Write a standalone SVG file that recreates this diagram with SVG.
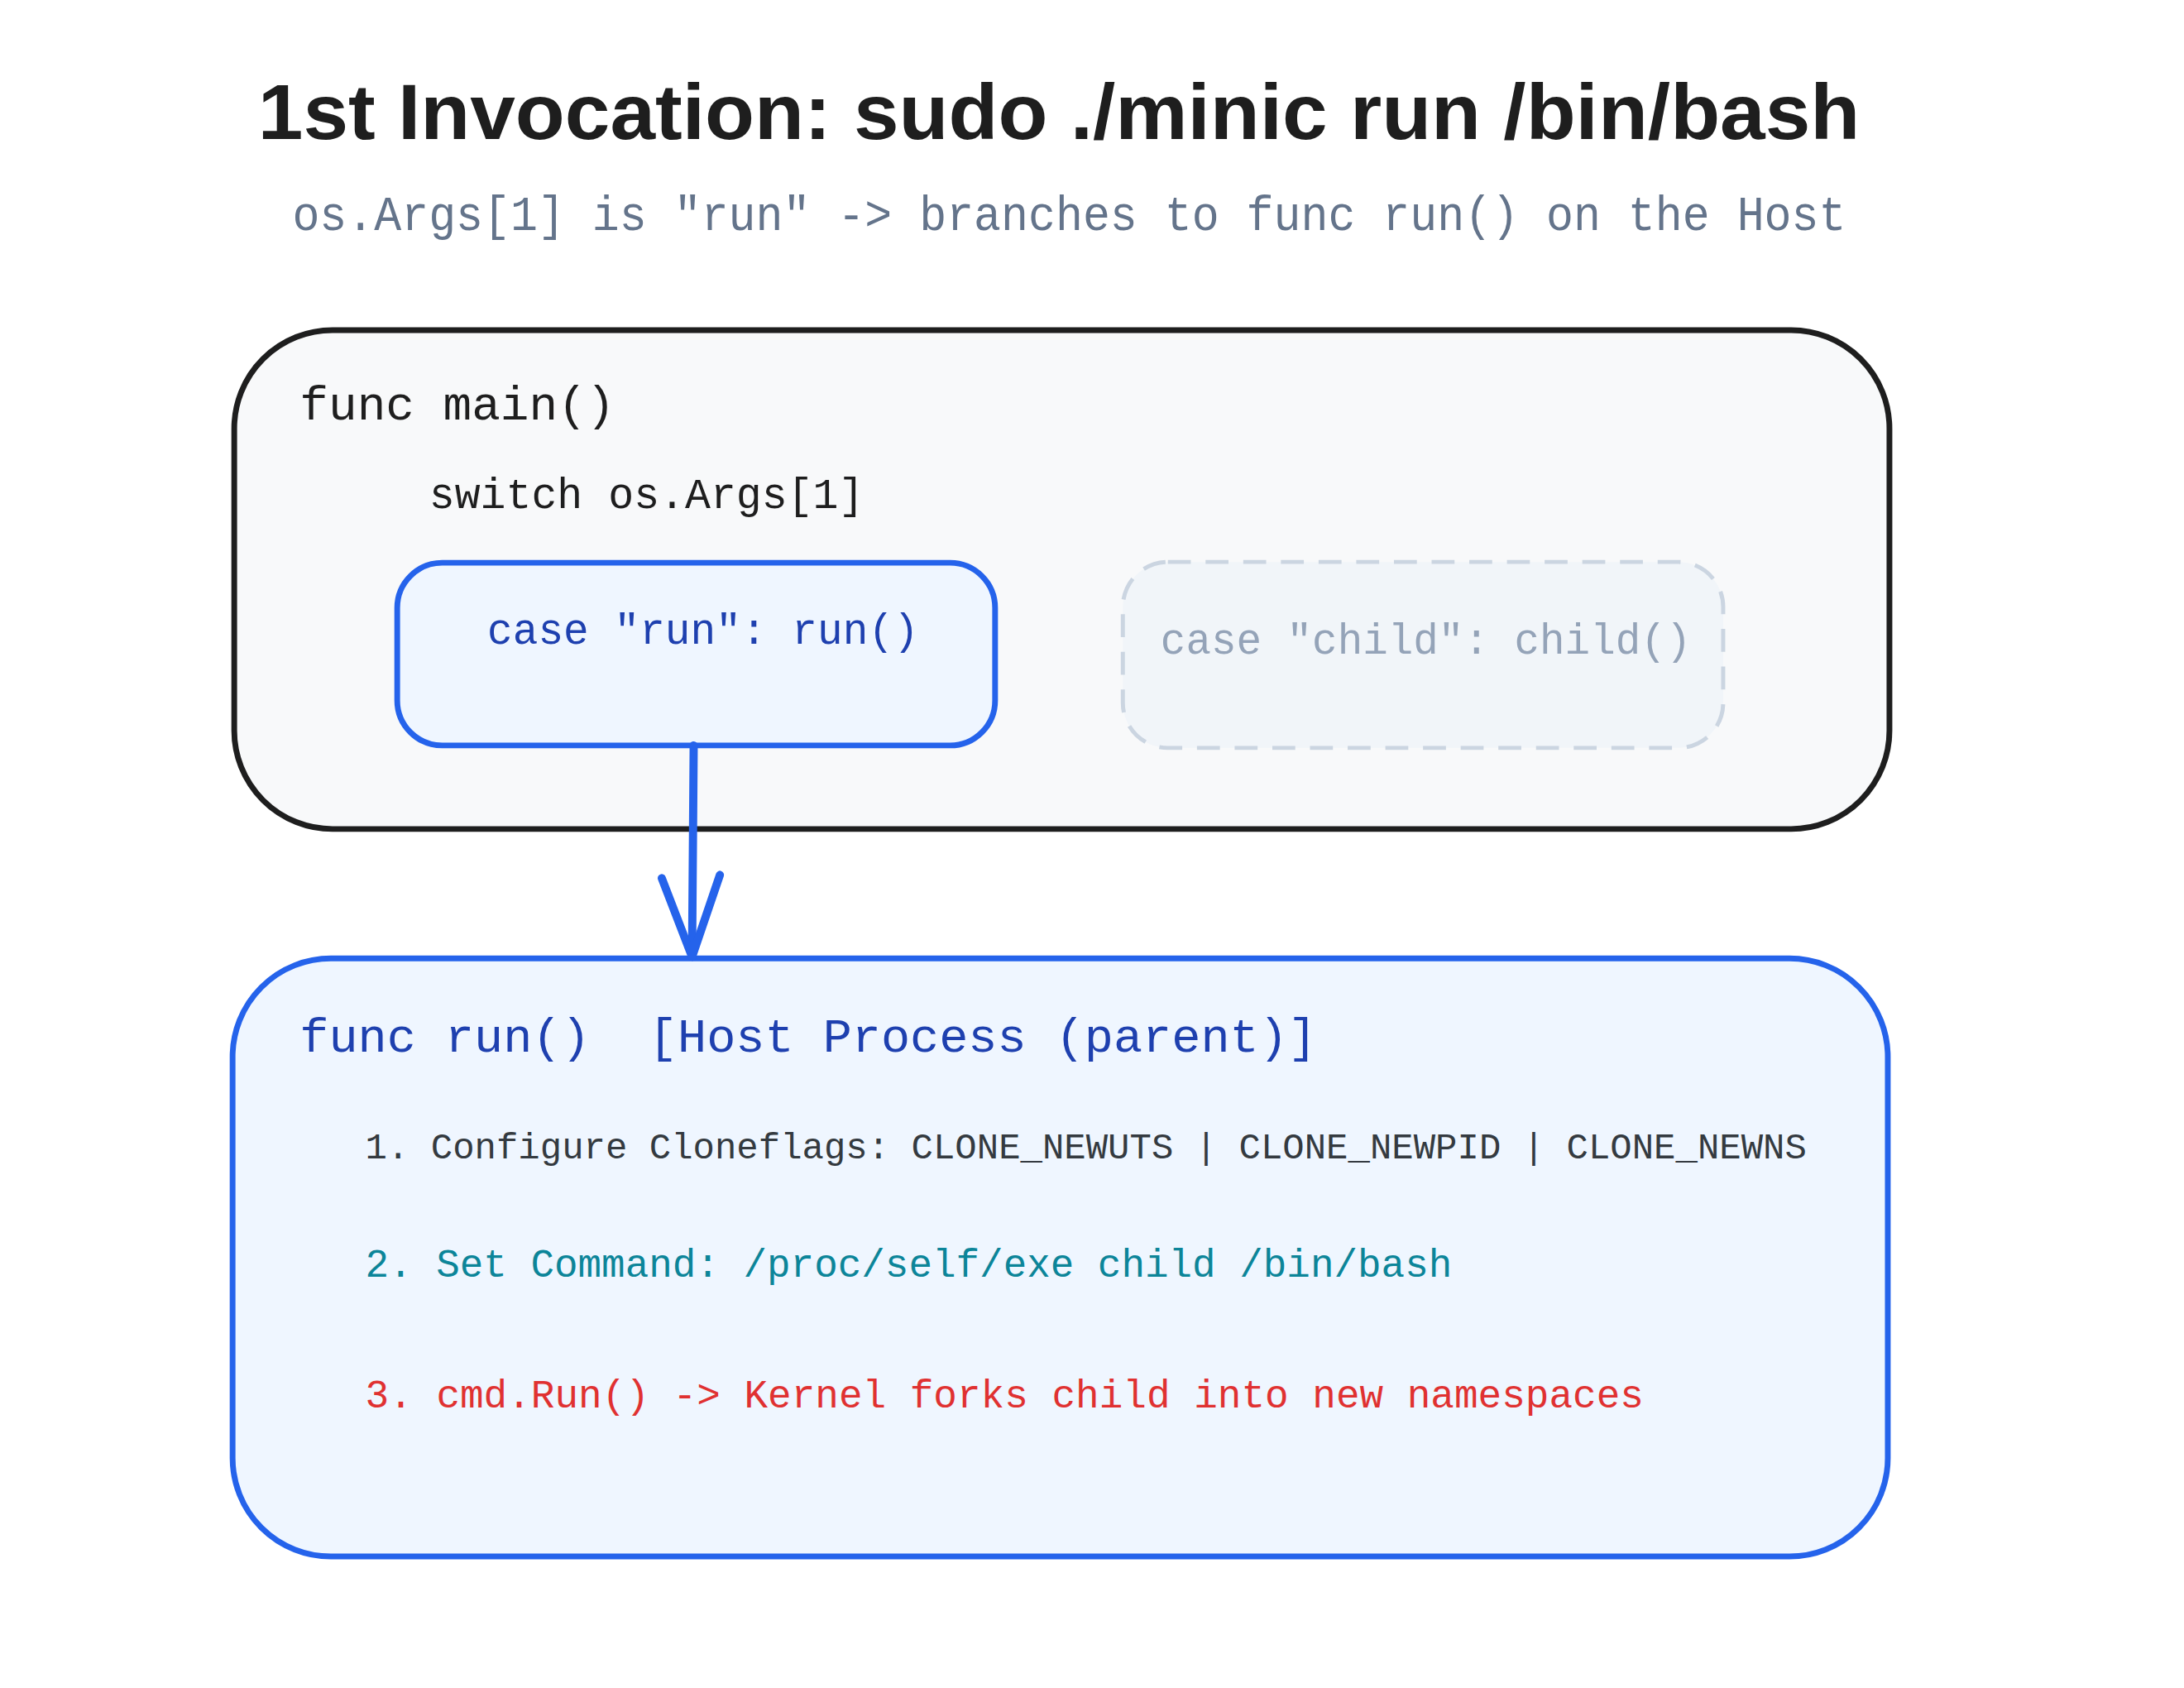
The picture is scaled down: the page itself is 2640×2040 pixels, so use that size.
<svg xmlns="http://www.w3.org/2000/svg" width="2640" height="2040" viewBox="0 0 2640 2040">
<style>
.m{font-family:"Liberation Mono","DejaVu Sans Mono",monospace}
.t{font-family:"Liberation Sans",Arial,sans-serif;font-weight:bold}
</style>
<rect width="2640" height="2040" fill="#ffffff"/>
<g transform="scale(0.99)">
<text class="t" x="315" y="170" font-size="96" fill="#1e1e1e" textLength="1956" lengthAdjust="spacingAndGlyphs">1st Invocation: sudo ./minic run /bin/bash</text>
<text class="m" x="357" y="281" font-size="60" fill="#64748b" textLength="1897" lengthAdjust="spacingAndGlyphs">os.Args[1] is "run" -&gt; branches to func run() on the Host</text>
<g id="main">
<rect x="286" y="403" width="2021" height="609" rx="120" fill="#f8f9fa" stroke="#1e1e1e" stroke-width="7"/>
<text class="m" x="366" y="512" font-size="58" fill="#1e1e1e" textLength="385" lengthAdjust="spacingAndGlyphs">func main()</text>
<text class="m" x="524" y="620" font-size="52" fill="#1e1e1e" textLength="531" lengthAdjust="spacingAndGlyphs">switch os.Args[1]</text>
</g>
<g id="case-run">
<rect x="485" y="687" width="730" height="223" rx="55" fill="#eff6ff" stroke="#2563eb" stroke-width="7"/>
<text class="m" x="595" y="786" font-size="52" fill="#1e40af" textLength="527" lengthAdjust="spacingAndGlyphs">case "run": run()</text>
</g>
<g id="case-child">
<rect x="1371" y="686" width="733" height="227" rx="55" fill="#f1f5f9" stroke="#cbd5e1" stroke-width="5" stroke-dasharray="28 18"/>
<text class="m" x="1417" y="798" font-size="52" fill="#94a3b8" textLength="648" lengthAdjust="spacingAndGlyphs">case "child": child()</text>
</g>
<g id="run">
<rect x="284" y="1170" width="2021" height="730" rx="120" fill="#eff6ff" stroke="#2563eb" stroke-width="7"/>
<text class="m" x="366" y="1284" font-size="58" fill="#1e40af" textLength="1242" lengthAdjust="spacingAndGlyphs">func run()&#160; [Host Process (parent)]</text>
<text class="m" x="446" y="1414" font-size="44" fill="#343a40" textLength="1760" lengthAdjust="spacingAndGlyphs">1. Configure Cloneflags: CLONE_NEWUTS | CLONE_NEWPID | CLONE_NEWNS</text>
<text class="m" x="446" y="1559" font-size="48" fill="#0c8599" textLength="1327" lengthAdjust="spacingAndGlyphs">2. Set Command: /proc/self/exe child /bin/bash</text>
<text class="m" x="446" y="1718" font-size="48" fill="#e03131" textLength="1561" lengthAdjust="spacingAndGlyphs">3. cmd.Run() -&gt; Kernel forks child into new namespaces</text>
</g>
<g id="connectors" fill="none" stroke="#2563eb" stroke-width="10" stroke-linecap="round" stroke-linejoin="round">
<path d="M847 910 L845 1168"/>
<path d="M808 1072 L845 1168 L879 1068"/>
</g>
</g>
</svg>
